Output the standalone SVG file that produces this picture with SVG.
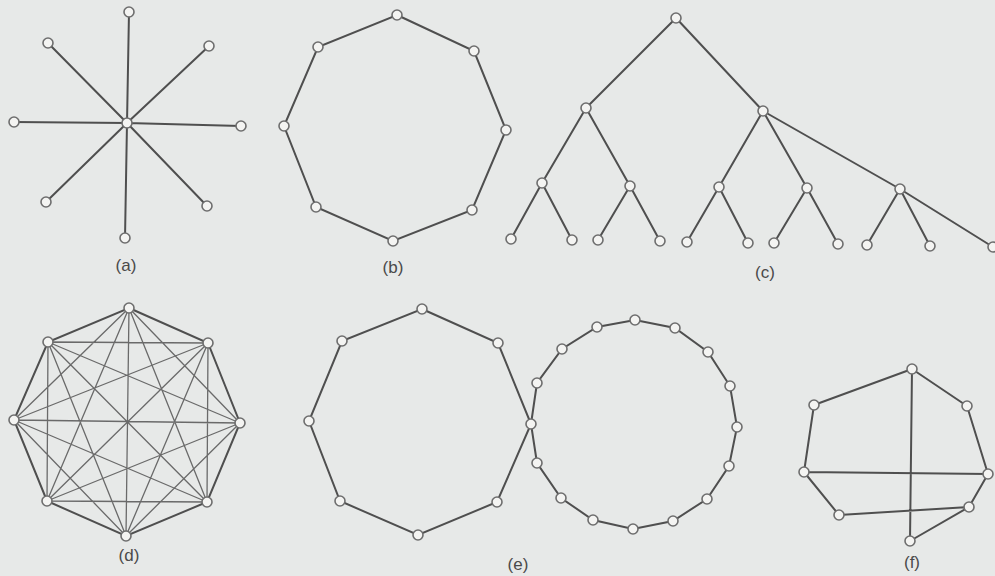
<svg xmlns="http://www.w3.org/2000/svg" width="995" height="576" viewBox="0 0 995 576">
<style>
.e{stroke:#4f4f4f;stroke-width:2;fill:none;stroke-linecap:round}
.d{stroke:#6a6a6a;stroke-width:1.3;fill:none}
.n{fill:#f4f4f2;stroke:#6e6e6e;stroke-width:1.6}
.l{font-family:"Liberation Sans",Arial,sans-serif;font-size:17px;fill:#4a4a4a;text-anchor:middle}
</style>
<rect width="995" height="576" fill="#e7e9e8"/>
<g id="connectors">
<!-- (a) star -->
<path class="e" d="M127,123L129,12M127,123L48,43M127,123L209,46M127,123L14,122M127,123L241,126M127,123L46,202M127,123L207,206M127,123L125,238"/>
<!-- (b) octagon -->
<path class="e" d="M397,15L474,51L506,130L472,210L393,241L316,207L284,126L318,47Z"/>
<!-- (c) tree -->
<path class="e" d="M676,18L586,108M676,18L763,111M586,108L542,183M586,108L630,186M763,111L719,187M763,111L807,188M763,111L900,189M542,183L511,239M542,183L572,240M630,186L598,240M630,186L660,241M719,187L687,242M719,187L748,243M807,188L774,243M807,188L838,244M900,189L867,245M900,189L930,246M900,189L993,247"/>
<!-- (d) complete graph -->
<path class="e" d="M129,308L208,343L240,423L207,502L126,536L47,501L14,420L48,342Z"/>
<path class="d" d="M129,308L240,423M129,308L207,502M129,308L126,536M129,308L47,501M129,308L14,420
M208,343L207,502M208,343L126,536M208,343L47,501M208,343L14,420M208,343L48,342
M240,423L126,536M240,423L47,501M240,423L14,420M240,423L48,342
M207,502L47,501M207,502L14,420M207,502L48,342
M126,536L14,420M126,536L48,342
M47,501L48,342"/>
<!-- (e) octagon + 16-gon -->
<path class="e" d="M422,309L498,343L531,424L497,502L418,535L340,501L309,421L342,341Z"/>
<path class="e" d="M531,424L537,383L562,349L597,327L635,320L675,328L708,352L730,386L737,427L729,466L707,499L673,521L633,529L593,520L561,498L537,463Z"/>
<!-- (f) -->
<path class="e" d="M912,369L814,405M912,369L967,406M967,406L988,474M814,405L804,472M804,472L988,474M804,472L839,515M839,515L969,507M988,474L969,507M969,507L910,541M912,369L910,541"/>
</g>
<g id="graph-a">
<circle class="n" cx="127" cy="123" r="5"/><circle class="n" cx="129" cy="12" r="5"/><circle class="n" cx="48" cy="43" r="5"/><circle class="n" cx="209" cy="46" r="5"/><circle class="n" cx="14" cy="122" r="5"/><circle class="n" cx="241" cy="126" r="5"/><circle class="n" cx="46" cy="202" r="5"/><circle class="n" cx="207" cy="206" r="5"/><circle class="n" cx="125" cy="238" r="5"/>
<text class="l" x="126" y="271">(a)</text>
</g>
<g id="graph-b">
<circle class="n" cx="397" cy="15" r="5"/><circle class="n" cx="474" cy="51" r="5"/><circle class="n" cx="506" cy="130" r="5"/><circle class="n" cx="472" cy="210" r="5"/><circle class="n" cx="393" cy="241" r="5"/><circle class="n" cx="316" cy="207" r="5"/><circle class="n" cx="284" cy="126" r="5"/><circle class="n" cx="318" cy="47" r="5"/>
<text class="l" x="393" y="273">(b)</text>
</g>
<g id="graph-c">
<circle class="n" cx="676" cy="18" r="5"/><circle class="n" cx="586" cy="108" r="5"/><circle class="n" cx="763" cy="111" r="5"/>
<circle class="n" cx="542" cy="183" r="5"/><circle class="n" cx="630" cy="186" r="5"/><circle class="n" cx="719" cy="187" r="5"/><circle class="n" cx="807" cy="188" r="5"/><circle class="n" cx="900" cy="189" r="5"/>
<circle class="n" cx="511" cy="239" r="5"/><circle class="n" cx="572" cy="240" r="5"/><circle class="n" cx="598" cy="240" r="5"/><circle class="n" cx="660" cy="241" r="5"/><circle class="n" cx="687" cy="242" r="5"/><circle class="n" cx="748" cy="243" r="5"/><circle class="n" cx="774" cy="243" r="5"/><circle class="n" cx="838" cy="244" r="5"/><circle class="n" cx="867" cy="245" r="5"/><circle class="n" cx="930" cy="246" r="5"/><circle class="n" cx="993" cy="247" r="5"/>
<text class="l" x="765" y="278">(c)</text>
</g>
<g id="graph-d">
<circle class="n" cx="129" cy="308" r="5"/><circle class="n" cx="208" cy="343" r="5"/><circle class="n" cx="240" cy="423" r="5"/><circle class="n" cx="207" cy="502" r="5"/><circle class="n" cx="126" cy="536" r="5"/><circle class="n" cx="47" cy="501" r="5"/><circle class="n" cx="14" cy="420" r="5"/><circle class="n" cx="48" cy="342" r="5"/>
<text class="l" x="129" y="561">(d)</text>
</g>
<g id="graph-e">
<circle class="n" cx="422" cy="309" r="5"/><circle class="n" cx="498" cy="343" r="5"/><circle class="n" cx="497" cy="502" r="5"/><circle class="n" cx="418" cy="535" r="5"/><circle class="n" cx="340" cy="501" r="5"/><circle class="n" cx="309" cy="421" r="5"/><circle class="n" cx="342" cy="341" r="5"/>
<circle class="n" cx="531" cy="424" r="5"/>
<circle class="n" cx="537" cy="383" r="5"/><circle class="n" cx="562" cy="349" r="5"/><circle class="n" cx="597" cy="327" r="5"/><circle class="n" cx="635" cy="320" r="5"/><circle class="n" cx="675" cy="328" r="5"/><circle class="n" cx="708" cy="352" r="5"/><circle class="n" cx="730" cy="386" r="5"/><circle class="n" cx="737" cy="427" r="5"/><circle class="n" cx="729" cy="466" r="5"/><circle class="n" cx="707" cy="499" r="5"/><circle class="n" cx="673" cy="521" r="5"/><circle class="n" cx="633" cy="529" r="5"/><circle class="n" cx="593" cy="520" r="5"/><circle class="n" cx="561" cy="498" r="5"/><circle class="n" cx="537" cy="463" r="5"/>
<text class="l" x="518" y="570">(e)</text>
</g>
<g id="graph-f">
<circle class="n" cx="912" cy="369" r="5"/><circle class="n" cx="814" cy="405" r="5"/><circle class="n" cx="967" cy="406" r="5"/><circle class="n" cx="804" cy="472" r="5"/><circle class="n" cx="988" cy="474" r="5"/><circle class="n" cx="839" cy="515" r="5"/><circle class="n" cx="969" cy="507" r="5"/><circle class="n" cx="910" cy="541" r="5"/>
<text class="l" x="912" y="568">(f)</text>
</g>
</svg>
